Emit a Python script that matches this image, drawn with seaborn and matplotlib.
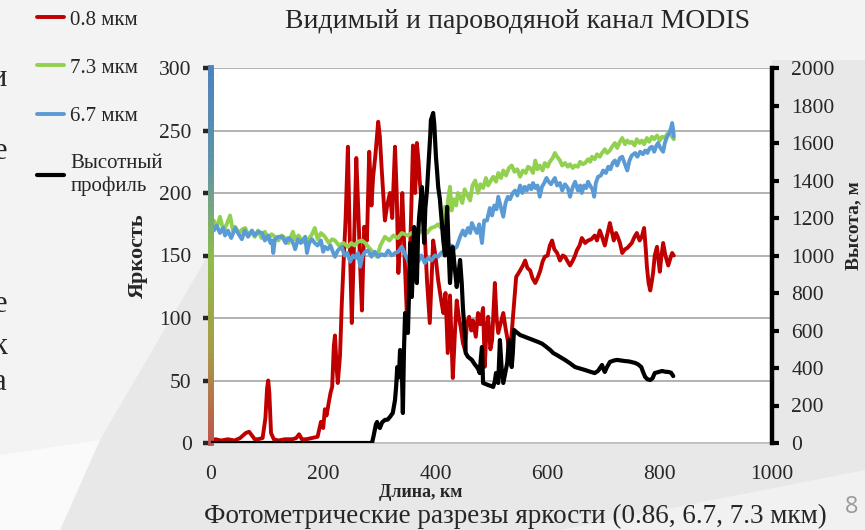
"""
Фотометрические разрезы яркости MODIS (0.86, 6.7, 7.3 мкм) + высотный профиль.
"""

import matplotlib
matplotlib.use("Agg")
import matplotlib.pyplot as plt
from matplotlib.collections import LineCollection
from matplotlib.colors import LinearSegmentedColormap
from matplotlib.patches import Polygon
import seaborn as sns

# ---- data ----
red_km = [0, 8, 18, 30, 42, 52, 62, 68, 73, 78, 84, 92, 97, 100, 102, 104, 107, 112,
          120, 132, 145, 152, 157, 162, 170, 180, 190, 196, 200, 203, 206, 209, 213,
          216, 219, 221, 224, 226, 230, 233, 236, 240, 244, 248, 251, 255, 259, 263,
          266, 269, 273, 278, 282, 286, 289, 293, 298, 301, 304, 310, 314, 319, 323,
          328, 331, 334, 338, 341, 345, 349, 352, 355, 360, 364, 367, 370, 372, 376,
          381, 385, 390, 393, 396, 400, 405, 410, 414, 418, 422, 426, 431, 435, 438,
          442, 445, 449, 453, 456, 460, 464, 467, 472, 476, 480, 485, 488, 491, 494,
          498, 501, 504, 506, 509, 512, 516, 521, 525, 529, 532, 536, 540, 544, 547,
          551, 556, 560, 564, 569, 573, 578, 583, 587, 591, 595, 600, 604, 608, 612,
          617, 622, 627, 631, 636, 640, 645, 649, 652, 657, 661, 667, 672, 678, 684,
          688, 693, 697, 702, 707, 711, 714, 718, 722, 725, 729, 733, 738, 742, 746,
          750, 755, 759, 764, 768, 772, 775, 777, 780, 783, 786, 788, 791, 795, 798,
          800, 803, 806, 810, 815, 819, 822, 825]
red_val = [2, 3, 2, 3, 2, 4, 8, 9, 6, 3, 3, 4, 20, 44, 50, 40, 8, 3,
           2, 3, 3, 4, 7, 3, 3, 4, 5, 17, 12, 27, 22, 30, 40,
           45, 78, 86, 60, 48, 70, 110, 141, 180, 237, 150, 96, 160, 228, 181,
           140, 106, 173, 162, 233, 190, 213, 230, 257, 245, 221, 178, 190, 200, 180,
           237, 200, 136, 170, 200, 150, 104, 120, 154, 238, 200, 240, 225, 210, 190,
           168, 130, 96, 130, 162, 150, 130, 115, 104, 120, 72, 118, 52, 90, 114,
           100, 93, 80, 74, 95, 101, 90, 98, 85, 104, 95, 108, 61, 90, 101,
           75, 82, 110, 128, 100, 88, 95, 104, 92, 82, 70, 88, 110, 133, 135,
           138, 142, 146, 140, 138, 132, 128, 133, 138, 145, 149, 150, 158, 162, 155,
           152, 146, 150, 149, 145, 142, 146, 150, 154, 158, 164, 160, 162, 163, 166,
           162, 170, 165, 158, 168, 176, 170, 162, 168, 165, 160, 152, 155, 156, 158,
           160, 165, 168, 162, 165, 172, 155, 141, 128, 122, 130, 136, 150, 157, 145,
           137, 150, 160, 150, 142, 148, 152, 150]

green_km = [0, 5, 10, 16, 22, 28, 34, 39, 43, 50, 56, 61, 67, 72, 78, 84, 90, 96,
            102, 108, 114, 120, 126, 132, 138, 146, 150, 156, 162, 168, 174, 180, 185,
            190, 196, 203, 210, 216, 221, 228, 236, 244, 250, 256, 262, 269, 275, 282,
            290, 296, 302, 310, 318, 325, 333, 340, 351, 358, 365, 376, 385, 392, 399,
            405, 410, 414, 417, 420, 423, 426, 429, 433, 437, 440, 444, 448, 452, 457,
            462, 466, 471, 476, 480, 485, 490, 494, 499, 503, 508, 512, 517, 521, 526,
            531, 536, 541, 546, 551, 556, 561, 565, 569, 574, 578, 582, 586, 591, 595,
            600, 604, 609, 613, 617, 622, 626, 631, 636, 640, 645, 649, 654, 658, 663,
            667, 672, 676, 679, 684, 688, 693, 697, 702, 706, 711, 715, 720, 724, 729,
            733, 738, 742, 746, 750, 755, 759, 764, 768, 772, 777, 781, 786, 790, 795,
            800, 804, 809, 813, 818, 822, 825]
green_val = [176, 178, 172, 181, 170, 175, 182, 170, 173, 168, 171, 172, 166, 169, 165, 170, 164, 169,
             163, 167, 165, 162, 166, 164, 160, 169, 163, 166, 162, 160, 163, 167, 172,
             163, 168, 165, 160, 163, 162, 158, 160, 157, 160, 158, 161, 162, 160, 156,
             152, 149, 158, 165, 162, 166, 164, 168, 166, 168, 166, 170, 168, 172, 173,
             175, 172, 178, 189, 184, 196, 205, 186, 195, 190, 200, 197, 192, 203, 198,
             194, 206, 210, 200, 207, 204, 212, 206, 210, 213, 209, 216, 212, 218, 214,
             220, 222, 217, 219, 213, 218, 216, 221, 220, 216, 226, 219, 222, 218, 224,
             221, 225, 228, 232, 229, 226, 222, 224, 221, 223, 220, 222, 221, 225, 223,
             224, 227, 225, 229, 227, 231, 229, 232, 235, 232, 234, 237, 240, 236, 241,
             244, 239, 242, 240, 241, 238, 243, 240, 242, 239, 244, 241, 245, 243, 246,
             242, 245, 244, 247, 248, 245, 243]

blue_km = [0, 5, 10, 16, 22, 25, 30, 36, 43, 48, 55, 60, 66, 73, 78, 84, 91, 96,
           102, 106, 109, 111, 114, 120, 127, 133, 138, 144, 148, 150, 155, 160, 165,
           168, 171, 175, 180, 185, 190, 196, 200, 203, 208, 213, 218, 221, 226, 233,
           238, 243, 248, 253, 258, 262, 266, 270, 275, 280, 286, 292, 298, 304, 310,
           316, 322, 328, 334, 340, 345, 351, 357, 363, 369, 375, 381, 387, 393, 399,
           405, 410, 416, 421, 425, 429, 433, 438, 444, 449, 453, 458, 462, 465, 469,
           474, 478, 483, 487, 492, 497, 501, 505, 509, 512, 516, 521, 525, 529, 533,
           538, 542, 546, 551, 555, 559, 563, 567, 571, 574, 578, 582, 586, 590, 594,
           598, 602, 606, 610, 613, 617, 622, 626, 631, 636, 640, 645, 649, 654, 658,
           661, 665, 669, 672, 677, 680, 683, 686, 690, 695, 699, 704, 708, 712, 716,
           720, 724, 729, 733, 737, 742, 746, 750, 756, 760, 765, 770, 774, 778, 782,
           786, 790, 794, 797, 801, 806, 809, 813, 817, 820, 822, 824, 825]
blue_val = [175, 170, 174, 168, 172, 166, 170, 164, 172, 168, 163, 170, 165, 170, 166, 169, 168, 162,
            166, 160, 162, 152, 163, 165, 165, 160, 164, 162, 158, 155, 163, 160, 163,
            165, 152, 160, 163, 160, 158, 162, 153, 157, 155, 158, 152, 149, 154, 157,
            150, 152, 145, 150, 148, 152, 141, 150, 153, 154, 149, 153, 149, 151, 150,
            154, 150, 152, 153, 157, 152, 146, 150, 149, 145, 150, 144, 148, 146, 150,
            149, 152, 154, 160, 150, 158, 155, 157, 165, 170, 166, 172, 168, 176, 172,
            168, 175, 160, 178, 178, 188, 182, 190, 187, 197, 190, 181, 192, 197, 195,
            200, 202, 198, 206, 200, 205, 202, 206, 203, 208, 204, 206, 197, 205, 208,
            212, 209, 207, 210, 212, 206, 208, 202, 207, 204, 197, 205, 209, 202, 206,
            200, 206, 204, 209, 205, 203, 197, 208, 213, 214, 218, 216, 221, 219, 224,
            226, 222, 228, 229, 224, 218, 226, 230, 232, 229, 233, 231, 234, 232, 236,
            237, 233, 238, 240, 236, 233, 240, 245, 248, 252, 256, 250, 245]

height_km = [0, 100, 200, 287, 290, 294, 296, 298, 301, 305, 310, 315, 319, 324, 328,
             330, 332, 335, 337, 340, 342, 344, 346, 348, 351, 353, 355, 357, 358, 360,
             362, 364, 367, 369, 371, 374, 376, 378, 380, 382, 385, 387, 389, 391, 392,
             394, 396, 398, 401, 403, 405, 408, 410, 412, 414, 417, 421, 424, 426, 428,
             431, 434, 438, 441, 444, 447, 449, 452, 454, 458, 462, 465, 470, 474, 477,
             479, 481, 483, 485, 489, 494, 498, 503, 506, 508, 510, 512, 515, 518, 521,
             525, 528, 531, 534, 536, 538, 540, 545, 551, 558, 565, 574, 583, 590, 598,
             605, 610, 616, 622, 631, 640, 649, 658, 667, 676, 684, 690, 697, 700, 702,
             705, 711, 718, 724, 731, 738, 745, 752, 756, 761, 765, 767, 770, 774, 778,
             783, 787, 791, 797, 804, 810, 815, 820, 824]
height_m = [0, 0, 0, 0, 40, 100, 112, 90, 80, 110, 123, 125, 139, 160, 229,
            300, 405, 350, 496, 420, 160, 500, 693, 650, 587, 800, 1067, 900, 779, 950,
            1152, 1000, 853, 1100, 1205, 1300, 1365, 1200, 1067, 1250, 1349, 1450, 1547, 1650, 1723,
            1740, 1760, 1700, 1525, 1450, 1365, 1300, 1227, 1150, 1083, 1000, 1259, 1000, 853, 950,
            1045, 950, 832, 900, 976, 850, 725, 600, 480, 460, 450, 443, 420, 405, 390,
            373, 450, 512, 320, 315, 309, 305, 299, 330, 373, 340, 320, 549, 400, 320,
            380, 427, 549, 450, 405, 480, 603, 590, 576, 568, 560, 550, 539, 530, 512,
            495, 480, 470, 459, 443, 425, 405, 397, 389, 380, 373, 385, 416, 390, 379,
            400, 432, 440, 443, 440, 437, 435, 430, 427, 420, 410, 405, 380, 352, 340,
            336, 345, 373, 378, 384, 380, 379, 375, 357]

series = [
    ("0.8 мкм", red_km, red_val, "#c00000"),
    ("7.3 мкм", green_km, green_val, "#92d050"),
    ("6.7 мкм", blue_km, blue_val, "#5b9bd5"),
]

x_ticks = [0, 200, 400, 600, 800, 1000]
y_ticks = [0, 50, 100, 150, 200, 250, 300]
h_ticks = [0, 200, 400, 600, 800, 1000, 1200, 1400, 1600, 1800, 2000]

# ---- style ----
sns.set_style("white")
plt.rcParams["font.family"] = ["Liberation Serif", "DejaVu Serif"]

W, H = 865, 530
fig = plt.figure(figsize=(W / 100, H / 100), dpi=100)
fig.patch.set_facecolor("#f3f3f3")


def px(x, y):
    return (x / W, 1 - y / H)


# slide background facets
for pts, col in [
    ([(100, 440), (211, 250), (211, 443), (772, 443), (772, 60), (865, 60),
      (865, 530), (60, 530)], "#e8e8e8"),
    ([(0, 455), (100, 440), (60, 530), (0, 530)], "#fafafa"),
    ([(560, 530), (865, 470), (865, 530)], "#f1f1f1"),
]:
    fig.patches.append(Polygon([px(*p) for p in pts], closed=True, facecolor=col,
                               edgecolor="none", transform=fig.transFigure, zorder=-5))

ax = fig.add_axes([211 / W, 1 - 443 / H, (772 - 211) / W, (443 - 68) / H])
ax.set_facecolor("white")
ax2 = ax.twinx()

lines = []
for label, xs, ys, color in series:
    sns.lineplot(x=xs, y=ys, ax=ax, color=color, linewidth=2.8, label=label, legend=False)
    lines.append(ax.get_lines()[-1])

sns.lineplot(x=height_km, y=height_m, ax=ax2, color="black", linewidth=3.0,
             label="Высотный\nпрофиль", legend=False)
lines.append(ax2.get_lines()[-1])

ax.set_xlim(0, 1000)
ax.set_ylim(0, 300)
ax2.set_ylim(0, 2000)
ax.set_xticks(x_ticks)
ax.set_yticks(y_ticks)
ax2.set_yticks(h_ticks)

ax.grid(axis="y", color="#a6a6a6", linewidth=1.2)
ax.grid(axis="x", visible=False)
ax.set_axisbelow(True)

for s in ["top", "right", "left"]:
    ax.spines[s].set_visible(False)
ax.spines["bottom"].set_color("#bfbfbf")
ax.spines["bottom"].set_linewidth(1.2)
for s in ["top", "left", "bottom"]:
    ax2.spines[s].set_visible(False)
ax2.spines["right"].set_color("black")
ax2.spines["right"].set_linewidth(3.2)

# gradient left axis (red -> olive -> green -> blue)
cmap = LinearSegmentedColormap.from_list(
    "yaxis", ["#c0504d", "#a89a48", "#8fbc4a", "#5f94a8", "#4f81bd"])
n_seg = 60
segs = [[(0, 300 * i / n_seg), (0, 300 * (i + 1) / n_seg)] for i in range(n_seg)]
lc = LineCollection(segs, colors=[cmap((i + 0.5) / n_seg) for i in range(n_seg)],
                    linewidths=4.2, capstyle="projecting",
                    transform=ax.get_yaxis_transform(), clip_on=False, zorder=6)
ax.add_collection(lc)

ax.tick_params(axis="x", length=5, width=1.2, color="#bfbfbf", pad=11, labelsize=15.5)
ax.tick_params(axis="y", length=6, width=3.2, pad=8, labelsize=15.5)
for t, v in zip(ax.yaxis.get_major_ticks(), y_ticks):
    t.tick1line.set_color(cmap(v / 300))
ax2.tick_params(axis="y", length=5, width=3, color="black", pad=9, labelsize=15.5)

ax.set_xlabel("Длина, км", fontsize=13, fontweight="bold")
ax.xaxis.set_label_coords(0.374, -0.11)
ax.set_ylabel("Яркость", fontsize=16, fontweight="bold")
ax.yaxis.set_label_coords(-0.112, 0.5)
ax2.set_ylabel("Высота, м", fontsize=14, fontweight="bold")
ax2.yaxis.set_label_coords(1.13, 0.58)

fig.legend(lines, [l.get_label() for l in lines], loc="upper left",
           bbox_to_anchor=px(37, 10), frameon=False, fontsize=15, borderpad=0,
           borderaxespad=0, handlelength=1.3, handletextpad=0.3, labelspacing=1.37)

fig.text(*px(518, 22), "Видимый и пароводяной канал MODIS", fontsize=20,
         ha="center", va="center")
fig.text(*px(515, 516), "Фотометрические разрезы яркости (0.86, 6.7, 7.3 мкм)",
         fontsize=19.5, ha="center", va="center")
fig.text(*px(852, 507), "8", fontsize=17, color="#9a9a9a", ha="center", va="center",
         family=["Open Sans", "DejaVu Sans"])

# slide body text cut off at the left edge
for ch, y in [("и", 78), ("е", 152), ("е", 305), ("к", 346), ("а", 383)]:
    fig.text(*px(7, y), ch, fontsize=22, ha="right", va="center")

fig.savefig("out.png", dpi=100, facecolor=fig.get_facecolor())
